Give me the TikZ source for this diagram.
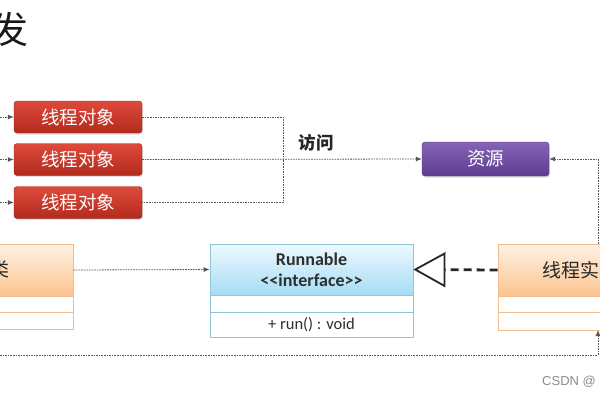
\documentclass[tikz,border=0pt]{standalone}
\usepackage{fontspec}
\newfontfamily\cjk{Noto Sans CJK SC}
\newfontfamily\uml{Carlito}
\newfontfamily\wm{Liberation Sans}
\usetikzlibrary{shadows,arrows.meta}
\definecolor{redT}{HTML}{DE4A3C}
\definecolor{redB}{HTML}{B22A1D}
\definecolor{purT}{HTML}{8464B6}
\definecolor{purB}{HTML}{5E3D90}
\definecolor{orT}{HTML}{FFF1E4}
\definecolor{orB}{HTML}{FBC48E}
\definecolor{orD}{HTML}{F2BC8E}
\definecolor{blT}{HTML}{EEF9FE}
\definecolor{blB}{HTML}{A4DCF5}
\definecolor{blD}{HTML}{8EC6D8}
\definecolor{lineC}{HTML}{555555}
\begin{document}
\begin{tikzpicture}[x=1pt,y=-1pt,
  redbox/.style={rectangle, rounded corners=3pt, minimum width=128pt, minimum height=32pt,
    top color=redT, bottom color=redB, draw=redB!85!black, line width=0.4pt,
    drop shadow={opacity=0.25, shadow xshift=1pt, shadow yshift=-1.5pt},
    font=\cjk\fontsize{18.5}{18.5}\selectfont, text=white},
  purbox/.style={redbox, top color=purT, bottom color=purB, draw=purB!85!black, minimum width=127pt, minimum height=34pt},
  ohead/.style={rectangle, inner sep=0pt, top color=orT, bottom color=orB, draw=orD, line width=0.8pt,
    drop shadow={opacity=0.2, shadow xshift=1pt, shadow yshift=-1.5pt}},
  ocell/.style={rectangle, inner sep=0pt, fill=white, draw=orD, line width=0.8pt},
  bhead/.style={rectangle, inner sep=0pt, top color=blT, bottom color=blB, draw=blD, line width=0.8pt,
    drop shadow={opacity=0.2, shadow xshift=1pt, shadow yshift=-1.5pt}},
  bcell/.style={rectangle, inner sep=0pt, fill=white, draw=blD, line width=0.8pt},
  conn/.style={draw=lineC, line width=0.8pt, dash pattern=on 1.6pt off 1pt},
  tip/.style={-{Latex[length=6pt,width=5pt]}},
  real/.style={draw=black!85, line width=2.8pt, dash pattern=on 8pt off 5pt,
    -{Triangle[open, length=32pt, width=35pt, line width=1.8pt]}},
  cjklabel/.style={font=\cjk\fontsize{19}{19}\selectfont, text=black!85, inner sep=0pt}
]
\useasboundingbox (0,0) rectangle (600,400);
\clip (0,0) rectangle (600,400);

% title
\node[font=\cjk\fontsize{37}{37}\selectfont, text=black!90] (title) at (10,29) {发};

% thread objects
\node[redbox] (red1) at (78,117) {线程对象};
\node[redbox] (red2) at (78,159.5) {线程对象};
\node[redbox] (red3) at (78,202.5) {线程对象};

% resource
\node[purbox] (res) at (485.5,159) {资源};

% access label
\node[font=\cjk\bfseries\fontsize{17.5}{17.5}\selectfont, text=black!85] (acc) at (316,143) {访问};

% left UML class
\node[ohead, minimum width=133pt, minimum height=52pt] (lH) at (6.5,270) {};
\node[ocell, minimum width=133pt, minimum height=16pt] (lM) at (6.5,304) {};
\node[ocell, minimum width=133pt, minimum height=17pt] (lB) at (6.5,320.5) {};
\node[cjklabel] (lT) at (0,269) {类};

% Runnable interface
\node[bhead, minimum width=203pt, minimum height=51pt, align=center,
      font=\uml\bfseries\fontsize{18}{21}\selectfont, text=black!82] (rH) at (311.5,269.5)
      {Runnable\\<<interface>>};
\node[bcell, minimum width=203pt, minimum height=17pt] (rM) at (311.5,303.5) {};
\node[bcell, minimum width=203pt, minimum height=25pt, font=\uml\fontsize{16.5}{16.5}\selectfont, text=black!82] (rB) at (311.5,324.5) {+ run() : void};

% right UML class
\node[ohead, minimum width=162pt, minimum height=52pt] (oH) at (579,270) {};
\node[ocell, minimum width=162pt, minimum height=16pt] (oM) at (579,304) {};
\node[ocell, minimum width=162pt, minimum height=18pt] (oB) at (579,321) {};
\node[cjklabel, anchor=west] (oT) at (542,270) {线程实};

% free ends
\coordinate (in1) at (0,117);
\coordinate (in2) at (0,159.5);
\coordinate (in3) at (0,202.5);
\coordinate (jn) at (283,159.5);
\coordinate (rtop) at (598,244);
\coordinate (bl) at (0,355);
\coordinate (rbot) at (598,330);

% connectors
\draw[conn,tip] (in1) -- (red1.west);
\draw[conn,tip] (in2) -- (red2.west);
\draw[conn,tip] (in3) -- (red3.west);
\draw[conn] (red1.east) -| (jn) |- (red3.east);
\draw[conn,tip] (red2.east) -- (res.west);
\draw[conn,tip] (rtop) |- (res.east);
\draw[conn,tip] (lH.east) -- (rH.west);
\draw[conn,tip] (bl) -| (rbot);
\draw[real] (oH.west) -- (rH.east);

% watermark
\node[font=\wm\fontsize{13}{13}\selectfont, text=black!45, anchor=west, inner sep=0pt] (wm) at (542,382) {CSDN @};
\end{tikzpicture}
\end{document}
